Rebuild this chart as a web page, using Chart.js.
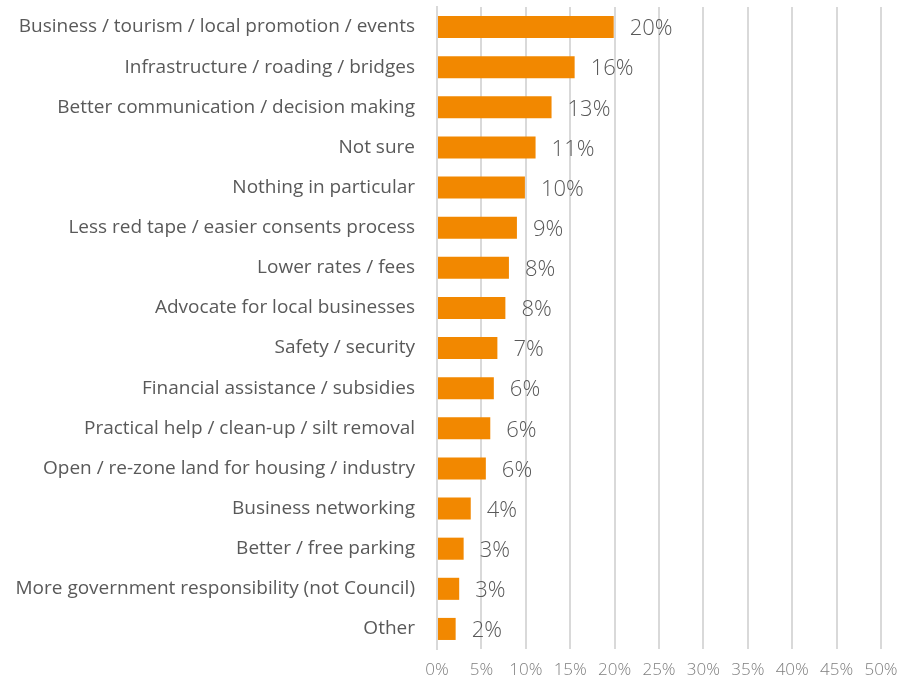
<!DOCTYPE html>
<html>
<head>
<meta charset="utf-8">
<script src="https://cdn.jsdelivr.net/npm/chart.js@4"></script>
<style>
  html, body { margin: 0; padding: 0; background: #fff; }
  #wrap { width: 897px; height: 687px; }
</style>
</head>
<body>
<div id="wrap"><canvas id="chart" width="897" height="687"></canvas></div>
<script>
const categories = [
  'Business / tourism / local promotion / events',
  'Infrastructure / roading / bridges',
  'Better communication / decision making',
  'Not sure',
  'Nothing in particular',
  'Less red tape / easier consents process',
  'Lower rates / fees',
  'Advocate for local businesses',
  'Safety / security',
  'Financial assistance / subsidies',
  'Practical help / clean-up / silt removal',
  'Open / re-zone land for housing / industry',
  'Business networking',
  'Better / free parking',
  'More government responsibility (not Council)',
  'Other'
];
const values = [19.9, 15.5, 12.9, 11.1, 9.9, 9.0, 8.1, 7.7, 6.8, 6.4, 6.0, 5.5, 3.8, 3.0, 2.5, 2.1];
const valueLabels = ['20%', '16%', '13%', '11%', '10%', '9%', '8%', '8%', '7%', '6%', '6%', '6%', '4%', '3%', '3%', '2%'];
const xTicks = [0, 5, 10, 15, 20, 25, 30, 35, 40, 45, 50];

const FONT = '"Open Sans", "Noto Sans", sans-serif';

// value labels to the right of each bar
const barLabels = {
  id: 'barLabels',
  afterDatasetsDraw(chart) {
    const ctx = chart.ctx;
    const meta = chart.getDatasetMeta(0);
    ctx.save();
    ctx.font = '300 22px ' + FONT;
    ctx.fillStyle = '#595959';
    ctx.textAlign = 'left';
    ctx.textBaseline = 'middle';
    meta.data.forEach((bar, i) => {
      ctx.fillText(valueLabels[i], bar.x + 16, bar.y + 2);
    });
    ctx.restore();
  }
};

new Chart(document.getElementById('chart'), {
  type: 'bar',
  data: {
    labels: categories,
    datasets: [{
      data: values,
      backgroundColor: '#F28800',
      borderWidth: 0,
      barPercentage: 0.55,
      categoryPercentage: 1.0
    }]
  },
  options: {
    indexAxis: 'y',
    responsive: false,
    animation: false,
    layout: { padding: { top: 7, right: 16, bottom: 0, left: 0 } },
    plugins: { legend: { display: false }, tooltip: { enabled: false } },
    scales: {
      x: {
        min: 0, max: 50,
        afterBuildTicks: s => { s.ticks = xTicks.map(v => ({ value: v })); },
        grid: { color: '#D9D9D9', lineWidth: 2, drawTicks: false },
        border: { display: false },
        ticks: {
          padding: 11,
          color: '#7F7F7F',
          font: { family: FONT, size: 17, weight: 300 },
          callback: v => v + '%'
        },
        afterFit: s => { s.height = 38; s.paddingLeft = 0; s.paddingRight = 0; }
      },
      y: {
        grid: { display: false, drawTicks: false },
        border: { color: '#D9D9D9', width: 2 },
        ticks: {
          padding: 22,
          color: '#595959',
          autoSkip: false,
          font: { family: FONT, size: 19, weight: 400 }
        },
        afterFit: s => { s.width = 437; s.paddingTop = 0; s.paddingBottom = 0; }
      }
    }
  },
  plugins: [barLabels]
});
</script>
</body>
</html>
